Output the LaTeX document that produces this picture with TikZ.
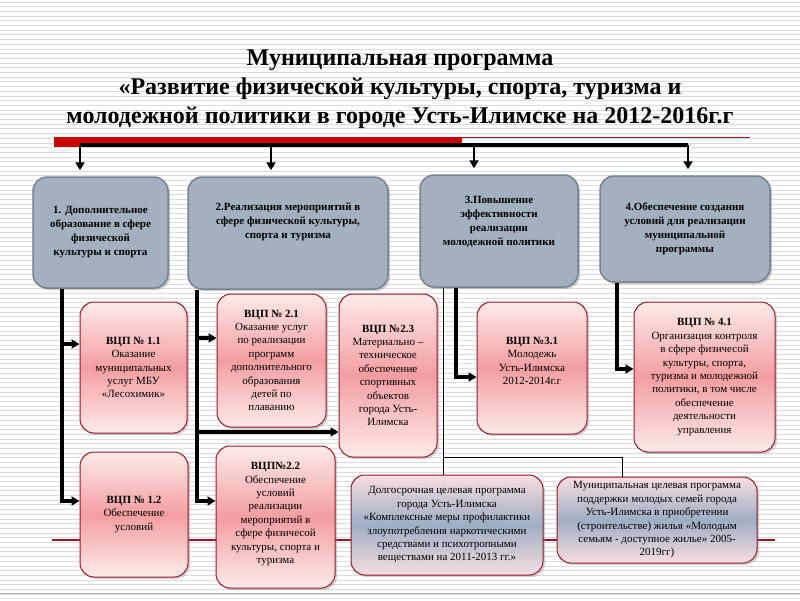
\documentclass[tikz,border=0pt]{standalone}
\usepackage{fontspec}
\setmainfont{Liberation Serif}
\usetikzlibrary{arrows.meta,shadows}

\definecolor{slate}{RGB}{163,176,191}
\definecolor{slateline}{RGB}{120,131,145}
\definecolor{rosetop}{RGB}{253,234,234}
\definecolor{rosemid}{RGB}{243,158,160}
\definecolor{wine}{RGB}{150,24,40}
\definecolor{steel}{RGB}{158,174,197}
\definecolor{blush}{RGB}{248,222,224}
\definecolor{stripe}{RGB}{220,220,220}
\definecolor{scarlet}{RGB}{204,0,0}

\begin{document}
\begin{tikzpicture}[x=1pt,y=-1pt,>={Triangle[length=8pt,width=9pt]},
    task/.style={shape=rectangle,rounded corners=14pt,draw=slateline,line width=1.5pt,fill=slate,
      drop shadow={shadow xshift=2pt,shadow yshift=-2pt,opacity=.4},
      font=\fontsize{11}{14}\selectfont\bfseries,align=center,inner sep=2pt},
    vcp/.style={shape=rectangle,rounded corners=14pt,draw=wine,line width=1pt,
      top color=rosetop,bottom color=rosetop,middle color=rosemid,
      drop shadow={shadow xshift=2pt,shadow yshift=-2pt,opacity=.35},
      font=\fontsize{11}{13.4}\selectfont,align=center,inner sep=2pt},
    prog/.style={vcp,top color=blush,bottom color=blush,middle color=steel},
    trunk/.style={line width=3.5pt},
    fine/.style={line width=0.8pt}]
    \useasboundingbox (0,0) rectangle (800,600);
    \fill[white] (0,0) rectangle (800,600);
    % lined background of the slide
    \foreach \i in {0,...,127}
        \draw[stripe,line width=0.9pt] (0,{\i*4.7+2}) -- (800,{\i*4.7+2});
    \draw[wine,line width=1.2pt] (52,540) -- (775,540);
    \draw[gray!60,line width=1pt] (0,593) -- (800,593);

    \node[font=\fontsize{24}{29}\selectfont\bfseries,align=center,anchor=north,inner sep=0pt](title)at(400, 50){Муниципальная программа\\«Развитие физической культуры, спорта, туризма и\\молодежной политики в городе Усть-Илимске на 2012-2016г.г};
    \fill[scarlet] (54,137) rectangle (462,147);
    \draw[wine,line width=0.8pt] (462,137.5) -- (750,137.5);

    % directions
    \node[task,minimum width=135pt,minimum height=111pt](b1)at(100.5, 232.5){1. Дополнительное\\образование в сфере\\физической\\культуры и спорта};
    \node[task,minimum width=200pt,minimum height=112pt,text depth=24pt](b2)at(288, 233){2.Реализация мероприятий в\\сфере физической культуры,\\спорта и туризма};
    \node[task,minimum width=158pt,minimum height=112pt,text depth=20pt](b3)at(499, 231){3.Повышение\\эффективности\\реализации\\молодежной политики};
    \node[task,minimum width=170pt,minimum height=106pt](b4)at(685, 229){4.Обеспечение создания\\условий для реализации\\муниципальной\\программы};

    % departmental programmes
    \node[vcp,minimum width=107pt,minimum height=131pt](v11)at(133.5, 367.5){\textbf{ВЦП № 1.1}\\Оказание\\муниципальных\\услуг МБУ\\«Лесохимик»};
    \node[vcp,minimum width=108pt,minimum height=125pt](v12)at(134, 514.5){\textbf{ВЦП № 1.2}\\Обеспечение\\условий};
    \node[vcp,minimum width=109pt,minimum height=133pt](v21)at(271.5, 360.5){\textbf{ВЦП № 2.1}\\Оказание услуг\\по реализации\\программ\\дополнительного\\образования\\детей по\\плаванию};
    \node[vcp,minimum width=119pt,minimum height=142pt,text depth=8pt](v22)at(275.5, 517){\textbf{ВЦП№2.2}\\Обеспечение\\условий\\реализации\\мероприятий в\\сфере физичесой\\культуры, спорта и\\туризма};
    \node[vcp,minimum width=98pt,minimum height=163pt](v23)at(388, 375.5){\textbf{ВЦП №2.3}\\Материально –\\техническое\\обеспечение\\спортивных\\объектов\\города Усть-\\Илимска};
    \node[vcp,minimum width=110pt,minimum height=132pt,text depth=14pt](v31)at(532, 368){\textbf{ВЦП №3.1}\\Молодежь\\Усть-Илимска\\2012-2014г.г};
    \node[vcp,minimum width=141pt,minimum height=150pt](v41)at(704.5, 377){\textbf{ВЦП № 4.1}\\Организация контроля\\в сфере физичесой\\культуры, спорта,\\туризма и молодежной\\политики, в том числе\\обеспечение\\деятельности\\управления};

    % municipal target programmes
    \node[prog,minimum width=192pt,minimum height=100pt](p1)at(447, 525){Долгосрочная целевая программа\\города Усть-Илимска\\«Комплексные меры профилактики\\злоупотребления наркотическими\\средствами и психотропными\\веществами на 2011-2013 гг.»};
    \node[prog,minimum width=200pt,minimum height=86pt](p2)at(657, 520){Муниципальная целевая программа\\поддержки молодых семей города\\Усть-Илимска в приобретении\\(строительстве) жилья «Молодым\\семьям - доступное жилье» 2005-\\2019гг)};

    % junctions
    \coordinate (a1) at (80, 145);
    \coordinate (a2) at (271, 145);
    \coordinate (a3) at (474, 145);
    \coordinate (a4) at (688, 145);
    \coordinate (j11) at (62, 344);
    \coordinate (j12) at (62, 501);
    \coordinate (j21) at (197, 338);
    \coordinate (j23) at (197, 432);
    \coordinate (j22) at (197, 501);
    \coordinate (j31) at (456, 377);
    \coordinate (j41) at (617, 369);
    \coordinate (k1) at (443, 457);
    \coordinate (k2) at (622, 457);

    \draw[trunk] (a1) -- (a4);
    \path[->,line width=2.2pt,shorten >=6pt] (a1) edge (a1 |- b1.north)
        (a2) edge (a2 |- b2.north)
        (a3) edge (a3 |- b3.north)
        (a4) edge (a4 |- b4.north);

    \draw[trunk,->] (b1.south -| j12) |- (v12.west |- j12);
    \draw[trunk,->] (j11) -- (v11.west |- j11);
    \draw[trunk,->] (b2.south -| j22) |- (v22.west |- j22);
    \draw[trunk,->] (j21) -- (v21.west |- j21);
    \draw[trunk,->] (j23) -- (v23.west |- j23);
    \draw[trunk,->] (b3.south -| j31) |- (v31.west |- j31);
    \draw[trunk,->] (b4.south -| j41) |- (v41.west |- j41);
    \draw[fine] (b3.south -| k1) -- (p1.north -| k1);
    \draw[fine] (k1) -- (k2) -- (p2.north -| k2);
\end{tikzpicture}
\end{document}
